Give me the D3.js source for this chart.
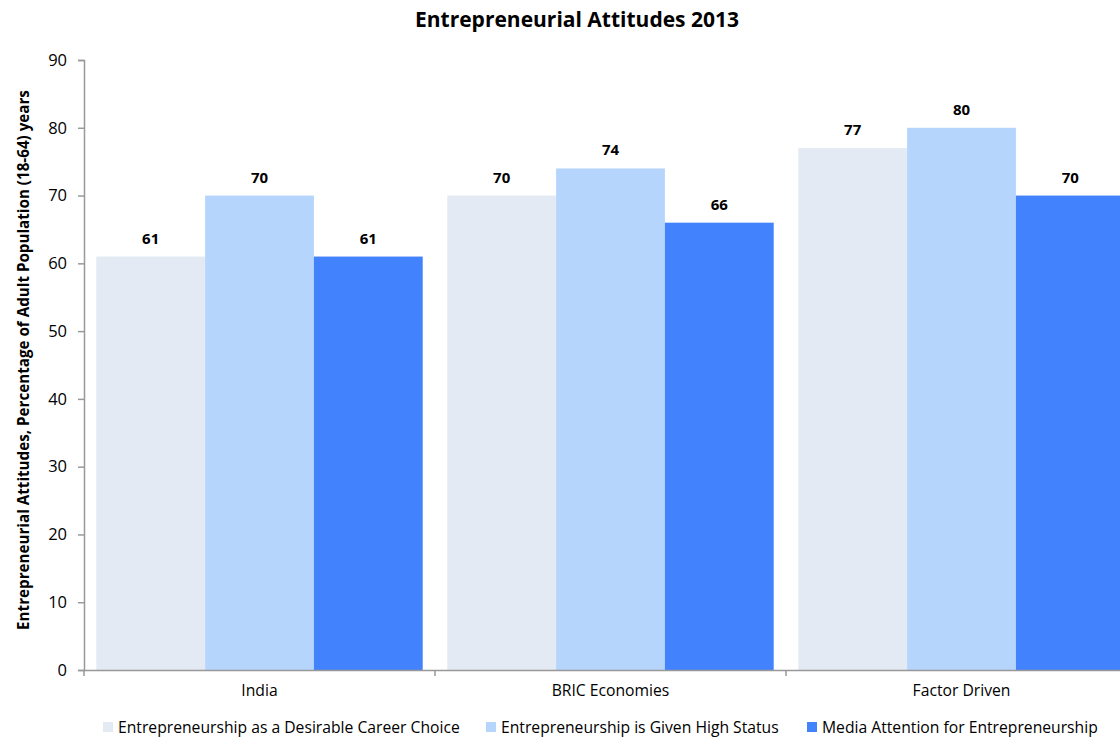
<!DOCTYPE html>
<html><head><meta charset="utf-8">
<script src="https://cdn.jsdelivr.net/npm/d3@7"></script>
<style>body{margin:0;background:#fff;}svg{display:block;font-family:"Open Sans",sans-serif;}</style>
</head><body>
<svg id="c" width="1120" height="737"></svg>
<script>
const categories = ["India", "BRIC Economies", "Factor Driven"];
const seriesNames = ["Entrepreneurship as a Desirable Career Choice", "Entrepreneurship is Given High Status", "Media Attention for Entrepreneurship"];
const desirableCareer = [61, 70, 77];
const highStatus = [70, 74, 80];
const mediaAttention = [61, 66, 70];
const yTicks = [0, 10, 20, 30, 40, 50, 60, 70, 80, 90];
const colors = ["#e3eaf4", "#b5d5fd", "#4382fd"];
const title = "Entrepreneurial Attitudes 2013";
const yLabel = "Entrepreneurial Attitudes, Percentage of Adult Population (18-64) years";

const series = [desirableCareer, highStatus, mediaAttention];
const svg = d3.select("#c");
const x = d3.scaleBand().domain(categories).range([84, 1137]).paddingInner(0.07).paddingOuter(0.035);
const x1 = d3.scaleBand().domain(d3.range(series.length)).range([0, x.bandwidth()]);
const y = d3.scaleLinear().domain([0, 90]).range([670, 60]);

svg.append("text").attr("x", 577).attr("y", 27).attr("text-anchor", "middle")
  .attr("font-weight", "bold").attr("font-size", 21).attr("fill", "#000").text(title);

const g = svg.append("g");
categories.forEach((c, i) => {
  series.forEach((s, j) => {
    g.append("rect").attr("x", x(c) + x1(j)).attr("y", y(s[i]))
      .attr("width", x1.bandwidth()).attr("height", y(0) - y(s[i])).attr("fill", colors[j]);
    g.append("text").attr("x", x(c) + x1(j) + x1.bandwidth() / 2).attr("y", y(s[i]) - 13)
      .attr("text-anchor", "middle").attr("font-weight", "bold").attr("font-size", 15).text(s[i]);
  });
});

const yAxis = svg.append("g").attr("transform", "translate(84,0)")
  .call(d3.axisLeft(y).tickValues(yTicks).tickSize(6).tickPadding(11));
yAxis.selectAll("line,path").attr("stroke", "#999").attr("stroke-width", 1.5);
yAxis.selectAll("text").attr("font-size", 16.5).attr("fill", "#000").attr("font-family", "'Open Sans',sans-serif");

const xAxis = svg.append("g").attr("transform", "translate(0,670)")
  .call(d3.axisBottom(x).tickSize(0).tickPadding(15));
xAxis.select("path").attr("stroke", "#999").attr("stroke-width", 1.5);
xAxis.selectAll("text").attr("font-size", 15.7).attr("fill", "#000").attr("font-family", "'Open Sans',sans-serif");
const bounds = categories.map(c => x(c) - x.step() * x.paddingInner() / 2).concat([1137]);
bounds[0] = 84;
svg.append("g").selectAll("line").data(bounds).join("line")
  .attr("x1", d => d).attr("x2", d => d).attr("y1", 670).attr("y2", 676)
  .attr("stroke", "#999").attr("stroke-width", 1.5);

svg.append("text").attr("transform", "translate(29,360) rotate(-90)").attr("text-anchor", "middle")
  .attr("font-weight", "bold").attr("font-size", 15.2).text(yLabel);

const legendX = [103, 486, 807];
const lg = svg.append("g");
seriesNames.forEach((n, j) => {
  lg.append("rect").attr("x", legendX[j]).attr("y", 722).attr("width", 10).attr("height", 10).attr("fill", colors[j]);
  lg.append("text").attr("x", legendX[j] + 15).attr("y", 733).attr("font-size", 15.7).text(n);
});
</script>
</body></html>
